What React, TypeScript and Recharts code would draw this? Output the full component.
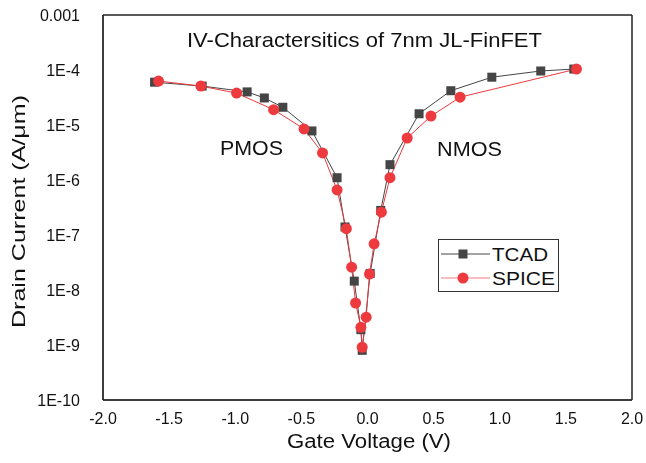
import { LineChart, Line, XAxis, YAxis, CartesianGrid } from "recharts";

// gate voltage (V) and drain current (A/um)
const tcadV = [-1.61, -1.25, -0.91, -0.78, -0.64, -0.42, -0.23, -0.17, -0.1, -0.05, -0.04, 0.02, 0.1, 0.17, 0.39, 0.63, 0.94, 1.31, 1.56];
const tcadI = [6.0e-5, 5.1e-5, 4.0e-5, 3.1e-5, 2.1e-5, 7.8e-6, 1.1e-6, 1.4e-7, 1.45e-8, 1.9e-9, 8.0e-10, 2.0e-8, 2.8e-7, 1.9e-6, 1.6e-5, 4.2e-5, 7.4e-5, 9.6e-5, 1.04e-4];

const spiceV = [-1.58, -1.26, -0.99, -0.71, -0.48, -0.34, -0.23, -0.16, -0.12, -0.09, -0.05, -0.04, -0.01, 0.015, 0.05, 0.105, 0.17, 0.3, 0.48, 0.7, 1.58];
const spiceI = [6.3e-5, 5.1e-5, 3.8e-5, 1.9e-5, 8.5e-6, 3.1e-6, 6.6e-7, 1.3e-7, 2.6e-8, 5.8e-9, 2.1e-9, 9.1e-10, 3.2e-9, 1.95e-8, 6.9e-8, 2.6e-7, 1.1e-6, 5.8e-6, 1.45e-5, 3.2e-5, 1.04e-4];

const tcad = tcadV.map((v, k) => ({ v, i: tcadI[k] }));
const spice = spiceV.map((v, k) => ({ v, i: spiceI[k] }));

const GREY = "#454545";
const RED = "#ec3a3f";
const INK = "#222";
const FONT = "'Liberation Sans', Arial, sans-serif";

const fmtY = (t: number) => {
  if (Math.abs(t - 1e-3) < 1e-9) return "0.001";
  return "1E" + Math.round(Math.log10(t));
};

const Square = (props: any) => {
  const { cx, cy } = props;
  if (cx == null || cy == null) return null;
  return <rect x={cx - 4.5} y={cy - 4.5} width={9} height={9} fill={GREY} />;
};

const Dot = (props: any) => {
  const { cx, cy } = props;
  if (cx == null || cy == null) return null;
  return <circle cx={cx} cy={cy} r={5.5} fill={RED} />;
};

// frame of the plot: only the outer edges of the grid
const edgesH = ({ offset }: any) => [offset.top, offset.top + offset.height];
const edgesV = ({ offset }: any) => [offset.left, offset.left + offset.width];

export default function App() {
  return (
    <div style={{ position: "fixed", left: 0, top: 0 }}>
      <LineChart width={646} height={463} margin={{ top: 15, right: 14, left: 0, bottom: 0 }}>
        <CartesianGrid
          stroke={INK}
          strokeWidth={1.5}
          horizontalCoordinatesGenerator={edgesH}
          verticalCoordinatesGenerator={edgesV}
        />
        <XAxis
          dataKey="v"
          type="number"
          domain={[-2, 2]}
          tickCount={9}
          tickFormatter={(t: number) => t.toFixed(1)}
          height={63}
          stroke={INK}
          tickLine={false}
          tickMargin={7}
          tick={{ fill: "#111", fontSize: 16, fontFamily: FONT }}
        />
        <YAxis
          dataKey="i"
          type="number"
          scale="log"
          domain={[1e-10, 1e-3]}
          tickFormatter={fmtY}
          width={103}
          stroke={INK}
          tickLine={false}
          tickMargin={17}
          tick={{ fill: "#111", fontSize: 16, fontFamily: FONT }}
          allowDataOverflow
        />
        <Line
          data={tcad}
          dataKey="i"
          name="TCAD"
          type="linear"
          stroke={GREY}
          strokeWidth={1}
          dot={<Square />}
          activeDot={false}
          isAnimationActive={false}
        />
        <Line
          data={spice}
          dataKey="i"
          name="SPICE"
          type="linear"
          stroke={RED}
          strokeWidth={1}
          dot={<Dot />}
          activeDot={false}
          isAnimationActive={false}
        />
      </LineChart>
      <svg
        width={646}
        height={463}
        style={{ position: "absolute", left: 0, top: 0, pointerEvents: "none" }}
        fontFamily={FONT}
      >
        <text x={364.5} y={47} fontSize={21} fill="#111" textAnchor="middle" textLength={355} lengthAdjust="spacingAndGlyphs">
          IV-Charactersitics of 7nm JL-FinFET
        </text>
        <text x={251.5} y={155} fontSize={20} fill="#111" textAnchor="middle" textLength={63} lengthAdjust="spacingAndGlyphs">
          PMOS
        </text>
        <text x={469.5} y={156} fontSize={20} fill="#111" textAnchor="middle" textLength={65} lengthAdjust="spacingAndGlyphs">
          NMOS
        </text>
        <text x={369} y={448} fontSize={20} fill="#111" textAnchor="middle" textLength={164} lengthAdjust="spacingAndGlyphs">
          Gate Voltage (V)
        </text>
        <text
          x={25}
          y={211.5}
          fontSize={18}
          fill="#111"
          textAnchor="middle"
          textLength={233}
          lengthAdjust="spacingAndGlyphs"
          transform="rotate(-90, 25, 211.5)"
        >
          Drain Current (A/μm)
        </text>
        <g transform="translate(438, 239)">
          <rect x={0.5} y={0.5} width={120} height={52} fill="#fff" stroke="#333" strokeWidth={1} />
          <line x1={3} x2={52} y1={15} y2={15} stroke={GREY} strokeWidth={1} />
          <rect x={20.5} y={10.5} width={9} height={9} fill={GREY} />
          <text x={54} y={21.5} fontSize={18} fill="#111" textLength={56} lengthAdjust="spacingAndGlyphs">TCAD</text>
          <line x1={3} x2={52} y1={39} y2={39} stroke="#f07a7d" strokeWidth={1} />
          <circle cx={25} cy={39} r={5.5} fill={RED} />
          <text x={54} y={45.5} fontSize={18} fill="#111" textLength={63} lengthAdjust="spacingAndGlyphs">SPICE</text>
        </g>
      </svg>
    </div>
  );
}
